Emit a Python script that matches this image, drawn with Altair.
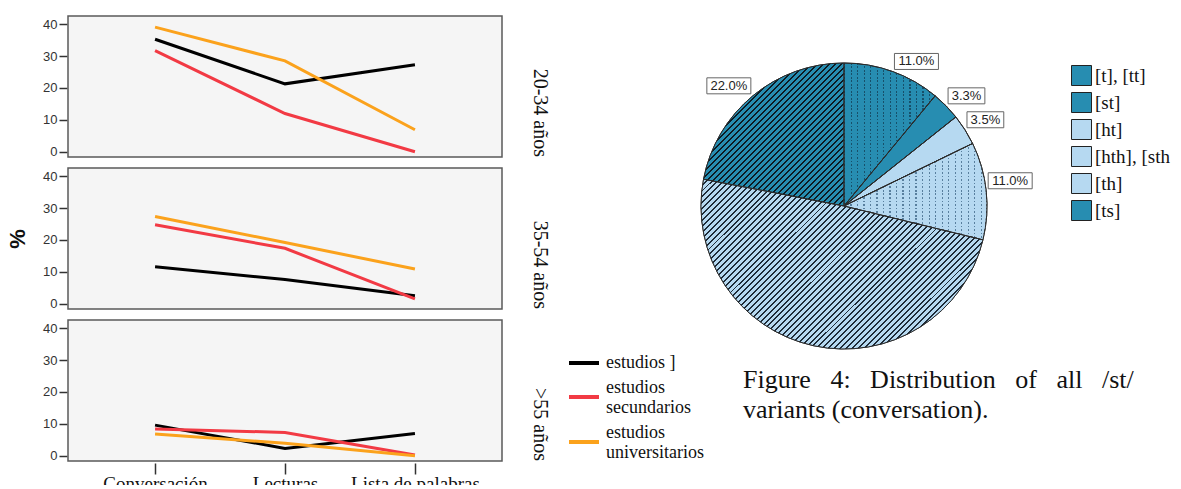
import altair as alt
import pandas as pd

# ---------------- data: line panels ----------------
tareas = ["Conversación", "Lecturas", "Lista de palabras"]
edades = ["20-34 años", "35-54 años", ">55 años"]
estudios = ["estudios ]", "estudios secundarios", "estudios universitarios"]

pct_20_34_prim = [35.3, 21.3, 27.3]
pct_20_34_sec = [31.7, 12.0, 0.0]
pct_20_34_univ = [39.1, 28.5, 6.9]
pct_35_54_prim = [11.6, 7.6, 2.5]
pct_35_54_sec = [24.8, 17.4, 1.5]
pct_35_54_univ = [27.4, 19.2, 10.9]
pct_55_prim = [9.6, 2.3, 7.0]
pct_55_sec = [8.4, 7.3, 0.2]
pct_55_univ = [6.8, 3.9, 0.0]

series = [
    (edades[0], estudios[0], pct_20_34_prim),
    (edades[0], estudios[1], pct_20_34_sec),
    (edades[0], estudios[2], pct_20_34_univ),
    (edades[1], estudios[0], pct_35_54_prim),
    (edades[1], estudios[1], pct_35_54_sec),
    (edades[1], estudios[2], pct_35_54_univ),
    (edades[2], estudios[0], pct_55_prim),
    (edades[2], estudios[1], pct_55_sec),
    (edades[2], estudios[2], pct_55_univ),
]
rows = []
for edad, est, vals in series:
    for t, v in zip(tareas, vals):
        rows.append({"edad": edad, "estudios": est, "tarea": t, "pct": v})
df_lines = pd.DataFrame(rows)

# ---------------- data: pie ----------------
variantes = ["[t], [tt]", "[st]", "[ht]", "[hth], [sth", "[th]", "[ts]"]
porcentajes = [11.0, 3.3, 3.5, 11.0, 49.2, 22.0]
mostrar_etiqueta = [True, True, True, True, False, True]
G = "\u00a0" * 3
caption_lines = [
    "Figure" + G + "4:" + G + "Distribution" + G + "of" + G + "all" + G + "/st/",
    "variants (conversation).",
]
df_pie = pd.DataFrame({"variante": variantes, "pct": porcentajes,
                       "orden": list(range(len(variantes))), "mostrar": mostrar_etiqueta})

# ---------------- styles ----------------
line_colors = ["#000000", "#f23a44", "#fba21c"]
TEAL = "#278db1"
LIGHT = "#b6d9f1"
pie_colors = [TEAL, TEAL, LIGHT, LIGHT, LIGHT, TEAL]
SERIF = "Liberation Serif"
SANS = "Liberation Sans"


def hatch(w, h, period, width, bg, fg, kind):
    if kind == "diag":
        m = max(w, h)
        gx, gy = w / m, h / m
    elif kind == "vert":
        gx, gy = 1, 0
    else:
        gx, gy = 0, 1
    L2 = gx * gx + gy * gy
    mag = ((gx / w) ** 2 + (gy / h) ** 2) ** 0.5 / L2
    n = int(round(1 / (period * mag)))
    duty = width / period
    stops = []
    for i in range(n):
        a = i / n
        b = (i + duty) / n
        c = (i + 1) / n
        stops += [
            {"offset": round(a, 5), "color": fg},
            {"offset": round(b, 5), "color": fg},
            {"offset": round(b, 5), "color": bg},
            {"offset": round(c, 5), "color": bg},
        ]
    return {"gradient": "linear", "x1": 0, "y1": 0, "x2": gx, "y2": gy, "stops": stops}


CLEAR = "rgba(0,0,0,0)"
patterns = [
    ("[t], [tt]", hatch(91, 143, 6.5, 1.4, CLEAR, "#17506a", "vert")),
    ("[t], [tt]", hatch(91, 143, 3.5, 1.7, TEAL, CLEAR, "horiz")),
    ("[hth], [sth", hatch(143, 96, 6.5, 1.4, CLEAR, "#587f9e", "vert")),
    ("[hth], [sth", hatch(143, 96, 3.5, 1.7, LIGHT, CLEAR, "horiz")),
    ("[th]", hatch(282, 170, 4.2, 1.4, LIGHT, "#1d2b38", "diag")),
    ("[ts]", hatch(141, 143, 4.2, 1.4, TEAL, "#0d1a22", "diag")),
]

# ---------------- line facet chart ----------------
lines = alt.Chart(df_lines).mark_line(strokeWidth=3).encode(
    x=alt.X("tarea:N", sort=tareas, scale=alt.Scale(type="point", padding=0.67),
            axis=alt.Axis(title=None, labelAngle=0, labelFont=SERIF, labelFontSize=19,
                          labelColor="#111", tickSize=11, tickColor="#333", tickWidth=1.5,
                          domain=False, labelPadding=0)),
    y=alt.Y("pct:Q", scale=alt.Scale(domain=[-1.66, 42.6], nice=False, zero=False),
            axis=alt.Axis(values=[0, 10, 20, 30, 40], title=None, labelFont=SANS,
                          labelFontSize=13, labelColor="#333", tickSize=8, tickColor="#333",
                          tickWidth=1.5, domain=False, grid=False, labelPadding=2)),
    color=alt.Color("estudios:N", scale=alt.Scale(domain=estudios, range=line_colors),
                    legend=alt.Legend(title=None, orient="none", legendX=499, legendY=330,
                                      symbolType="stroke", symbolStrokeWidth=4, symbolSize=900,
                                      labelFont=SERIF, labelFontSize=18, labelColor="#111",
                                      labelOffset=5, rowPadding=7, padding=0, labelLimit=300,
                                      labelBaseline=alt.ExprRef("datum.label == 'estudios ]' ? 'middle' : 'bottom'"),
                                      labelExpr="datum.label == 'estudios ]' ? datum.label : split(datum.label, ' ')")),
).properties(width=434, height=141,
             view=alt.ViewBackground(fill="#f5f5f5", stroke="#5a5a5a", strokeWidth=1.5))

facet = lines.facet(
    row=alt.Row("edad:N", sort=edades,
                header=alt.Header(title="%", titleOrient="left", titleAngle=-90,
                                  titleFont=SANS, titleFontSize=22, titleFontWeight="bold",
                                  titleColor="#111", titlePadding=-20,
                                  labelOrient="right", labelAngle=90,
                                  labelAnchor="end", labelFont=SERIF, labelFontSize=20,
                                  labelColor="#111", labelPadding=27)),
    spacing=8,
)

# ---------------- pie chart ----------------
P0 = 563
W = 2 * (844 - P0)
H = 380
R = 143
xs = alt.Scale(domain=[-W / 2, W / 2], nice=False, zero=False)
ys = alt.Scale(domain=[-H / 2, H / 2], nice=False, zero=False)
theta_scale = alt.Scale(domain=[0, 100], range=[0, 6.283185307179586])

base = alt.Chart(df_pie).transform_window(
    cum="sum(pct)", sort=[alt.SortField("orden")]
).transform_calculate(start="datum.cum - datum.pct", mid="datum.cum - datum.pct / 2")

arcs = base.mark_arc(radius=R, stroke="#2a2a2a", strokeWidth=1).encode(
    theta=alt.Theta("start:Q", scale=theta_scale),
    theta2="cum:Q",
    color=alt.Color("variante:N", sort=variantes,
                    scale=alt.Scale(domain=variantes, range=pie_colors),
                    legend=alt.Legend(title=None, orient="none", legendX=1071 - P0, legendY=64 - 15,
                                      symbolType="square", symbolSize=400,
                                      symbolStrokeColor="#222", symbolStrokeWidth=1,
                                      labelFont=SERIF, labelFontSize=19, labelColor="#111",
                                      rowPadding=2, labelOffset=3, padding=0, labelLimit=80)),
)

layers = [arcs]
for var, grad in patterns:
    layers.append(
        base.transform_filter(alt.datum.variante == var)
        .mark_arc(radius=R, fill=grad, strokeWidth=0)
        .encode(theta=alt.Theta("start:Q", scale=theta_scale), theta2="cum:Q")
    )

outline = base.mark_arc(radius=R, fill="transparent", stroke="#2a2a2a", strokeWidth=1).encode(
    theta=alt.Theta("start:Q", scale=theta_scale), theta2="cum:Q")
layers.append(outline)

lab = base.transform_filter("datum.mostrar").transform_calculate(
    etiqueta="format(datum.pct, '.1f') + '%'",
    a="datum.mid / 100 * 2 * PI",
).transform_calculate(
    hw="length(datum.etiqueta) * 3.6 + 4",
).transform_calculate(
    lx=f"{R} * sin(datum.a) + (sin(datum.a) >= 0 ? 1 : -1) * (datum.hw + 2)",
    ly=f"{R} * cos(datum.a) + (cos(datum.a) >= 0 ? 1 : -1) * 10",
).transform_calculate(
    bx1="datum.lx - datum.hw", bx2="datum.lx + datum.hw",
    by1="datum.ly - 8", by2="datum.ly + 8",
)

boxes = lab.mark_rect(fill="white", stroke="#666", strokeWidth=1).encode(
    x=alt.X("bx1:Q", scale=xs, axis=None), x2="bx2:Q",
    y=alt.Y("by1:Q", scale=ys, axis=None), y2="by2:Q",
)
texts = lab.mark_text(font=SANS, fontSize=13, color="#222", align="center", baseline="middle").encode(
    x=alt.X("lx:Q", scale=xs, axis=None),
    y=alt.Y("ly:Q", scale=ys, axis=None),
    text="etiqueta:N",
)
layers += [boxes, texts]

caption = alt.Chart(pd.DataFrame({"k": [0]})).mark_text(
    font=SERIF, fontSize=26, color="#111", align="left", baseline="alphabetic", lineHeight=30
).encode(text=alt.value(caption_lines), x=alt.value(743 - P0), y=alt.value(387 - 15))
layers.append(caption)

pie = alt.layer(*layers).properties(
    width=W, height=H,
    view=alt.ViewBackground(fill="transparent", stroke="transparent"),
)

chart = alt.hconcat(facet, pie, spacing=495, bounds="flush").resolve_scale(
    color="independent", x="independent", y="independent"
).properties(
    padding={"left": -1, "top": 7, "right": 0, "bottom": -8},
    background="white",
)

chart.save("out.html", embed_options={"renderer": "svg", "actions": False})
